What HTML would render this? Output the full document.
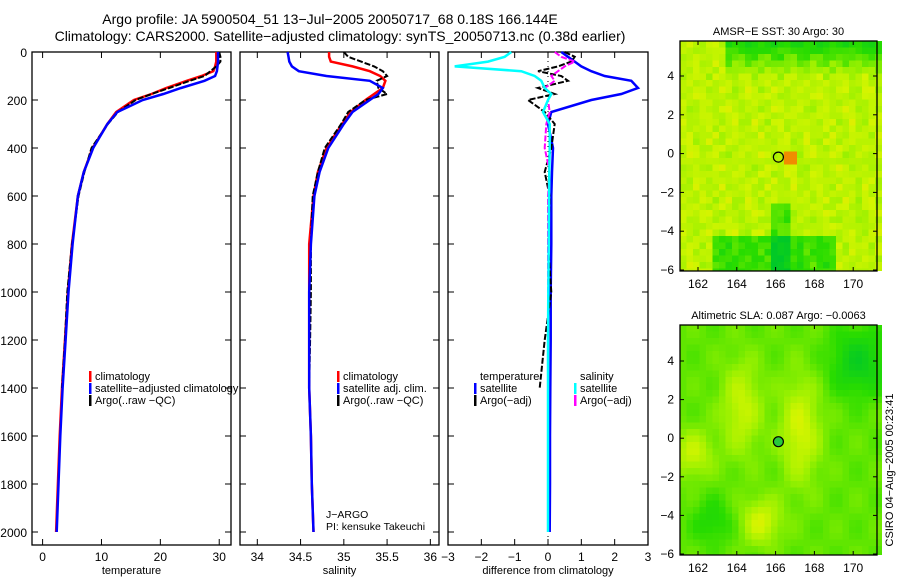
<!DOCTYPE html>
<html><head><meta charset="utf-8"><style>
html,body{margin:0;padding:0;background:#fff;}
svg{display:block;font-family:"Liberation Sans",sans-serif;}
</style></head><body>
<svg id="fig" width="900" height="580" viewBox="0 0 900 580">
<text x="330" y="24" font-size="14" text-anchor="middle">Argo profile: JA 5900504_51 13−Jul−2005 20050717_68 0.18S 166.144E</text>
<text x="340" y="41" font-size="14" text-anchor="middle">Climatology: CARS2000. Satellite−adjusted climatology: synTS_20050713.nc (0.38d earlier)</text>
<g id="g"></g>
<text transform="translate(893,470) rotate(-90)" font-size="11" text-anchor="middle">CSIRO 04−Aug−2005 00:23:41</text>
</svg>
<script>
const depths=[0,20,40,60,80,100,120,150,175,200,250,300,400,500,600,800,1000,1200,1400,1600,1800,2000];
const tempClim=[29.5,29.5,29.5,29.3,29,27,24.5,21,18.5,15.5,12.5,11,8.5,7,6,5,4.3,3.8,3.3,2.9,2.6,2.3];
const tempSat=[29.8,29.8,29.8,29.7,29.6,29.3,27.5,23.5,20.5,17,12.7,11,8.6,7,6,5.1,4.4,3.9,3.4,3,2.7,2.4];
const tempArgo=[30,30.2,30.2,29.5,28.5,27.5,25,21.5,18.5,15.8,12.8,11.1,8.3,7.1,6.1,5,4.2,3.8,3.3];
const salClim=[34.83,34.83,34.85,35.1,35.3,35.42,35.48,35.45,35.35,35.25,35.08,34.98,34.8,34.7,34.65,34.6,34.6,34.6,34.6,34.62,34.63,34.65];
const salSat=[34.35,34.36,34.37,34.4,34.48,34.8,35.3,35.45,35.4,35.3,35.1,35.0,34.82,34.72,34.66,34.62,34.6,34.6,34.6,34.62,34.63,34.65];
const salArgo=[35.0,35.05,35.2,35.35,35.45,35.5,35.38,35.4,35.5,35.25,35.05,34.97,34.78,34.7,34.64,34.62,34.62,34.61,34.6];
const dTempSat=[0.4,0.6,0.8,1.0,1.3,1.7,2.5,2.7,2.2,1.3,0.1,0,0.15,0.12,0.1,0.1,0.08,0.08,0.07,0.06,0.06,0.05];
const dSalSat=[-1.1,-1.3,-1.8,-2.8,-0.8,-0.4,-0.2,-0.1,0.1,0.0,-0.15,0.05,0.05,0.04,0.03,0.02,0.01,0.0,0.0,0,0,0];
const dTempArgo=[0.5,0.8,0.7,0.3,-0.3,0.4,0.6,-0.3,0.2,-0.6,-0.1,0.2,0.1,-0.1,0.05,0.0,0.1,-0.1,-0.25];
const dSalArgo=[0.2,0.4,0.8,0.5,0.3,0.1,0.2,-0.1,0.1,0.0,0.05,-0.05,-0.1,0.05,0.0,0,0,0,0];
const depthTicks=[0,200,400,600,800,1000,1200,1400,1600,1800,2000];
const tempTicks=[0,10,20,30];
const salTicks=[34,34.5,35,35.5,36];
const diffTicks=[-3,-2,-1,0,1,2,3];
const latTicks=[-6,-4,-2,0,2,4];
const lonTicks=[162,164,166,168,170];
const NS="http://www.w3.org/2000/svg";
const G=document.getElementById('g');
function el(t,a,p){const e=document.createElementNS(NS,t);for(const k in a)e.setAttribute(k,a[k]);(p||G).appendChild(e);return e;}
const yD=d=>52+d*0.24;
const panels=[
 {x0:32,x1:231,name:'temperature',lo:-1.8,hi:32,ticks:tempTicks,lab:'temperature'},
 {x0:240,x1:439,name:'salinity',lo:33.8,hi:36.1,ticks:salTicks,lab:'salinity'},
 {x0:448,x1:648,name:'difference',lo:-3,hi:3,ticks:diffTicks,lab:'difference from climatology'}];
panels.forEach((p,i)=>{
 p.sx=v=>p.x0+(v-p.lo)/(p.hi-p.lo)*(p.x1-p.x0);
 const f=el('rect',{x:p.x0,y:52,width:p.x1-p.x0,height:493,fill:'none',stroke:'#000','stroke-width':1.3});
 
 
 depthTicks.forEach(d=>{
  el('line',{x1:p.x0,x2:p.x0+6,y1:yD(d),y2:yD(d),stroke:'#000'});
  el('line',{x1:p.x1,x2:p.x1-6,y1:yD(d),y2:yD(d),stroke:'#000'});
  if(i===0){const t=el('text',{x:27,y:yD(d)+5,'font-size':12,'text-anchor':'end'});t.textContent=d;
   
   }
 });
 p.ticks.forEach(v=>{const x=p.sx(v);
  el('line',{x1:x,x2:x,y1:545,y2:539,stroke:'#000'});el('line',{x1:x,x2:x,y1:52,y2:58,stroke:'#000'});
  const t=el('text',{x:x,y:561,'font-size':12,'text-anchor':'middle'});t.textContent=String(v).replace('-','−');
  
  });
 const t=el('text',{x:(p.x0+p.x1)/2,y:574,'font-size':11,'text-anchor':'middle'});t.textContent=p.lab;
 
 
});
function line(p,vals,col,name,dash,w){
 const pts=vals.map((v,k)=>p.sx(v).toFixed(1)+','+yD(depths[k]).toFixed(1)).join(' ');
 const l=el('polyline',{points:pts,fill:'none',stroke:col,'stroke-width':w||2.5});
 if(dash)l.setAttribute('stroke-dasharray',dash);
 
 
}
const [P1,P2,P3]=panels;
el('line',{x1:P3.sx(0),x2:P3.sx(0),y1:56,y2:540,stroke:'#000','stroke-dasharray':'1,4'});
line(P1,tempClim,'#f00','temp-climatology-line');
line(P1,tempArgo,'#000','temp-argo-line','6,2',2);
line(P1,tempSat,'#00f','temp-satellite-line');
line(P2,salClim,'#f00','sal-climatology-line');
line(P2,salArgo,'#000','sal-argo-line','6,2',2);
line(P2,salSat,'#00f','sal-satellite-line');
line(P3,dTempSat,'#00f','diff-temp-satellite-line');
line(P3,dTempArgo,'#000','diff-temp-argo-line','6,2',2);
line(P3,dSalArgo,'#f0f','diff-sal-argo-line','6,2',2);
line(P3,dSalSat,'#0ff','diff-sal-satellite-line');
function legend(x,y,items){items.forEach((it,k)=>{
 if(it[0])el('rect',{x:x,y:y+k*12-9,width:2.5,height:11,fill:it[0]});
 const t=el('text',{x:x+6,y:y+k*12,'font-size':11});t.textContent=it[1];
 
 });}
legend(89,380,[['#f00','climatology'],['#00f','satellite−adjusted climatology'],['#000','Argo(..raw −QC)']]);
legend(337,380,[['#f00','climatology'],['#00f','satellite adj. clim.'],['#000','Argo(..raw −QC)']]);
legend(474,380,[[null,'temperature'],['#00f','satellite'],['#000','Argo(−adj)']]);
legend(574,380,[[null,'salinity'],['#0ff','satellite'],['#f0f','Argo(−adj)']]);
[['J−ARGO',518],['PI: kensuke Takeuchi',530]].forEach(a=>{const t=el('text',{x:326,y:a[1],'font-size':10.5});t.textContent=a[0];
 
 });
// maps
function cmap(v){const st=[[0,[0,200,40]],[0.3,[40,220,0]],[0.55,[150,240,0]],[0.75,[210,245,0]],[0.9,[240,230,0]],[1,[240,140,0]]];
 v=Math.max(0,Math.min(1,v));for(let i=1;i<st.length;i++)if(v<=st[i][0]){const a=st[i-1],b=st[i],t=(v-a[0])/(b[0]-a[0]);
 return 'rgb('+a[1].map((c,j)=>Math.round(c+(b[1][j]-c)*t)).join(',')+')';}}
function map(y0,lat4y,pxdeg,title,field,name,mark){
 const x0=680,x1=877,y1=y0+230;
 const cell=6.5;
 for(let r=0;r*cell<230;r++)for(let c=0;c*cell<197;c++){
  const lx=c/30,ly=r/35;
  el('rect',{x:x0+c*cell,y:y0+r*cell,width:cell+0.5,height:Math.min(cell+0.5,y1-y0-r*cell),fill:cmap(field(lx,ly,c,r))});
 }
 const f=el('rect',{x:x0,y:y0,width:x1-x0,height:230,fill:'none',stroke:'#000','stroke-width':1.3});
 
 
 const lonX=l=>698+(l-162)*19.4;
 const latY=l=>lat4y+(4-l)*pxdeg;
 lonTicks.forEach(l=>{const x=lonX(l);el('line',{x1:x,x2:x,y1:y1,y2:y1-4,stroke:'#000'});el('line',{x1:x,x2:x,y1:y0,y2:y0+4,stroke:'#000'});
  const t=el('text',{x:x,y:y1+17,'font-size':12,'text-anchor':'middle'});t.textContent=l;
  
  });
 latTicks.forEach(l=>{const y=latY(l);el('line',{x1:x0,x2:x0+4,y1:y,y2:y,stroke:'#000'});el('line',{x1:x1,x2:x1-4,y1:y,y2:y,stroke:'#000'});
  const t=el('text',{x:674,y:y+4,'font-size':12,'text-anchor':'end'});t.textContent=String(l).replace('-','−');
  
  });
 const t=el('text',{x:(x0+x1)/2,y:y0-6,'font-size':11,'text-anchor':'middle'});t.textContent=title;
 
 
 el('circle',{cx:lonX(166.144),cy:latY(-0.18),r:5,fill:mark,stroke:'#000','stroke-width':1.2});
}
const sst=(x,y,c,r)=>{let v=0.68+0.08*Math.sin(c*1.7+r*0.9)*Math.cos(r*1.3)-0.05*Math.sin(c*0.7*r);
 if(y<0.15&&x>0.2)v-=0.45*(1-y/0.15);
 if(y>0.85&&x>0.15&&x<0.8)v-=0.35;
 if(x>0.45&&x<0.55&&y>0.7)v-=0.3;
 if(c>=16&&c<=17&&r>=17&&r<=18)v=1;
 return v;};
const sla=(x,y)=>{let v=0.45+0.3*Math.exp(-((x-0.3)**2/0.01+(y-0.35)**2/0.04))+0.35*Math.exp(-((x-0.6)**2/0.01+(y-0.45)**2/0.05))
 +0.35*Math.exp(-((x-0.4)**2/0.01+(y-0.85)**2/0.01))+0.3*Math.exp(-((x-0.05)**2/0.01+(y-0.55)**2/0.01))-0.35*Math.exp(-((x-0.9)**2/0.02+(y-0.15)**2/0.02))
 -0.2*Math.exp(-((x-0.15)**2/0.01+(y-0.85)**2/0.01))+0.05*Math.sin(x*30)*Math.cos(y*25);return v*0.95;};
map(41,76,19.4,'AMSR−E SST: 30 Argo: 30',sst,'sst','none');
map(325,361,19.3,'Altimetric SLA: 0.087 Argo: −0.0063',sla,'sla','rgb(40,200,60)');
</script>
</body></html>
